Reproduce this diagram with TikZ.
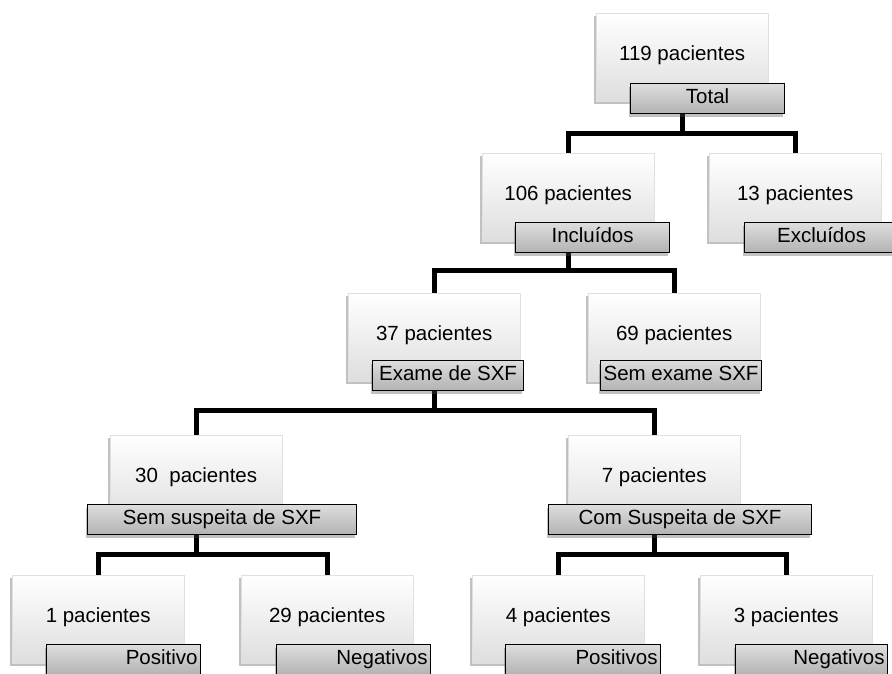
\documentclass[tikz,border=0pt]{standalone}
\usepackage{fontspec}
\setmainfont{Liberation Sans}
\usetikzlibrary{shadows,backgrounds}
\begin{document}
\begin{tikzpicture}[x=1pt,y=-1pt,
  mainbox/.style={anchor=north west, minimum width=172pt, minimum height=88pt,
    inner sep=0pt, top color=white, bottom color=black!13, draw=black!12, line width=0.4pt,
    text height=7pt, text depth=0pt,
    font=\fontsize{20.5}{24}\selectfont,
    drop shadow={shadow xshift=-2pt, shadow yshift=-3pt, opacity=0.35, fill=black!70}},
  labbox/.style={anchor=north west, minimum height=30pt, inner xsep=3pt, inner ysep=0pt,
    draw=black, line width=1.2pt, top color=black!13, bottom color=black!30,
    text height=14pt, text depth=4pt,
    font=\fontsize{20.5}{24}\selectfont,
    drop shadow={shadow xshift=-2pt, shadow yshift=-3pt, opacity=0.35, fill=black!70}},
  conn/.style={line width=5pt, line join=miter, line cap=butt, draw=black}]
\useasboundingbox (0,0) rectangle (892,673);

% level 1
\node[mainbox] (b119) at (596,13) {119 pacientes};
\node[labbox, minimum width=154pt] (lTot) at (630,83) {Total};
% level 2
\node[mainbox] (b106) at (482,153) {106 pacientes};
\node[labbox, minimum width=154pt] (lInc) at (515,222) {Incluídos};
\node[mainbox] (b13) at (709,153) {13 pacientes};
\node[labbox, minimum width=154pt] (lExc) at (744,222) {Excluídos};
% level 3
\node[mainbox] (b37) at (348,293) {37 pacientes};
\node[labbox, minimum width=151pt] (lExa) at (372,360) {Exame de SXF};
\node[mainbox] (b69) at (588,293) {69 pacientes};
\node[labbox, minimum width=158pt] (lSem) at (600,360) {Sem exame SXF};
% level 4
\node[mainbox] (b30) at (110,435) {30~~pacientes};
\node[labbox, minimum width=269pt] (lSs) at (87,504) {Sem suspeita de SXF};
\node[mainbox] (b7) at (568,435) {7 pacientes};
\node[labbox, minimum width=263pt] (lCs) at (548,504) {Com Suspeita de SXF};
% level 5
\node[mainbox] (b1) at (12,575) {1 pacientes};
\node[labbox, text width=148pt, align=right] (lP1) at (46,644) {Positivo};
\node[mainbox] (b29) at (241,575) {29 pacientes};
\node[labbox, text width=148pt, align=right] (lN1) at (276,644) {Negativos};
\node[mainbox] (b4) at (472,575) {4 pacientes};
\node[labbox, text width=149pt, align=right] (lP2) at (505,644) {Positivos};
\node[mainbox] (b3) at (700,575) {3 pacientes};
\node[labbox, text width=146pt, align=right] (lN2) at (735,644) {Negativos};

\coordinate (bar1) at (0,133);
\coordinate (bar2) at (0,270);
\coordinate (bar3) at (0,410);
\coordinate (bar4) at (0,554);

\begin{pgfonlayer}{background}
\draw[conn] (b119.south) -- (b119.south |- bar1);
\draw[conn] (b106.north) |- (b13.north |- bar1) -- (b13.north);
\draw[conn] (b106.south) -- (b106.south |- bar2);
\draw[conn] (b37.north) |- (b69.north |- bar2) -- (b69.north);
\draw[conn] (b37.south) -- (b37.south |- bar3);
\draw[conn] (b30.north) |- (b7.north |- bar3) -- (b7.north);
\draw[conn] (b30.south) -- (b30.south |- bar4);
\draw[conn] (b1.north) |- (b29.north |- bar4) -- (b29.north);
\draw[conn] (b7.south) -- (b7.south |- bar4);
\draw[conn] (b4.north) |- (b3.north |- bar4) -- (b3.north);
\end{pgfonlayer}
\end{tikzpicture}
\end{document}
